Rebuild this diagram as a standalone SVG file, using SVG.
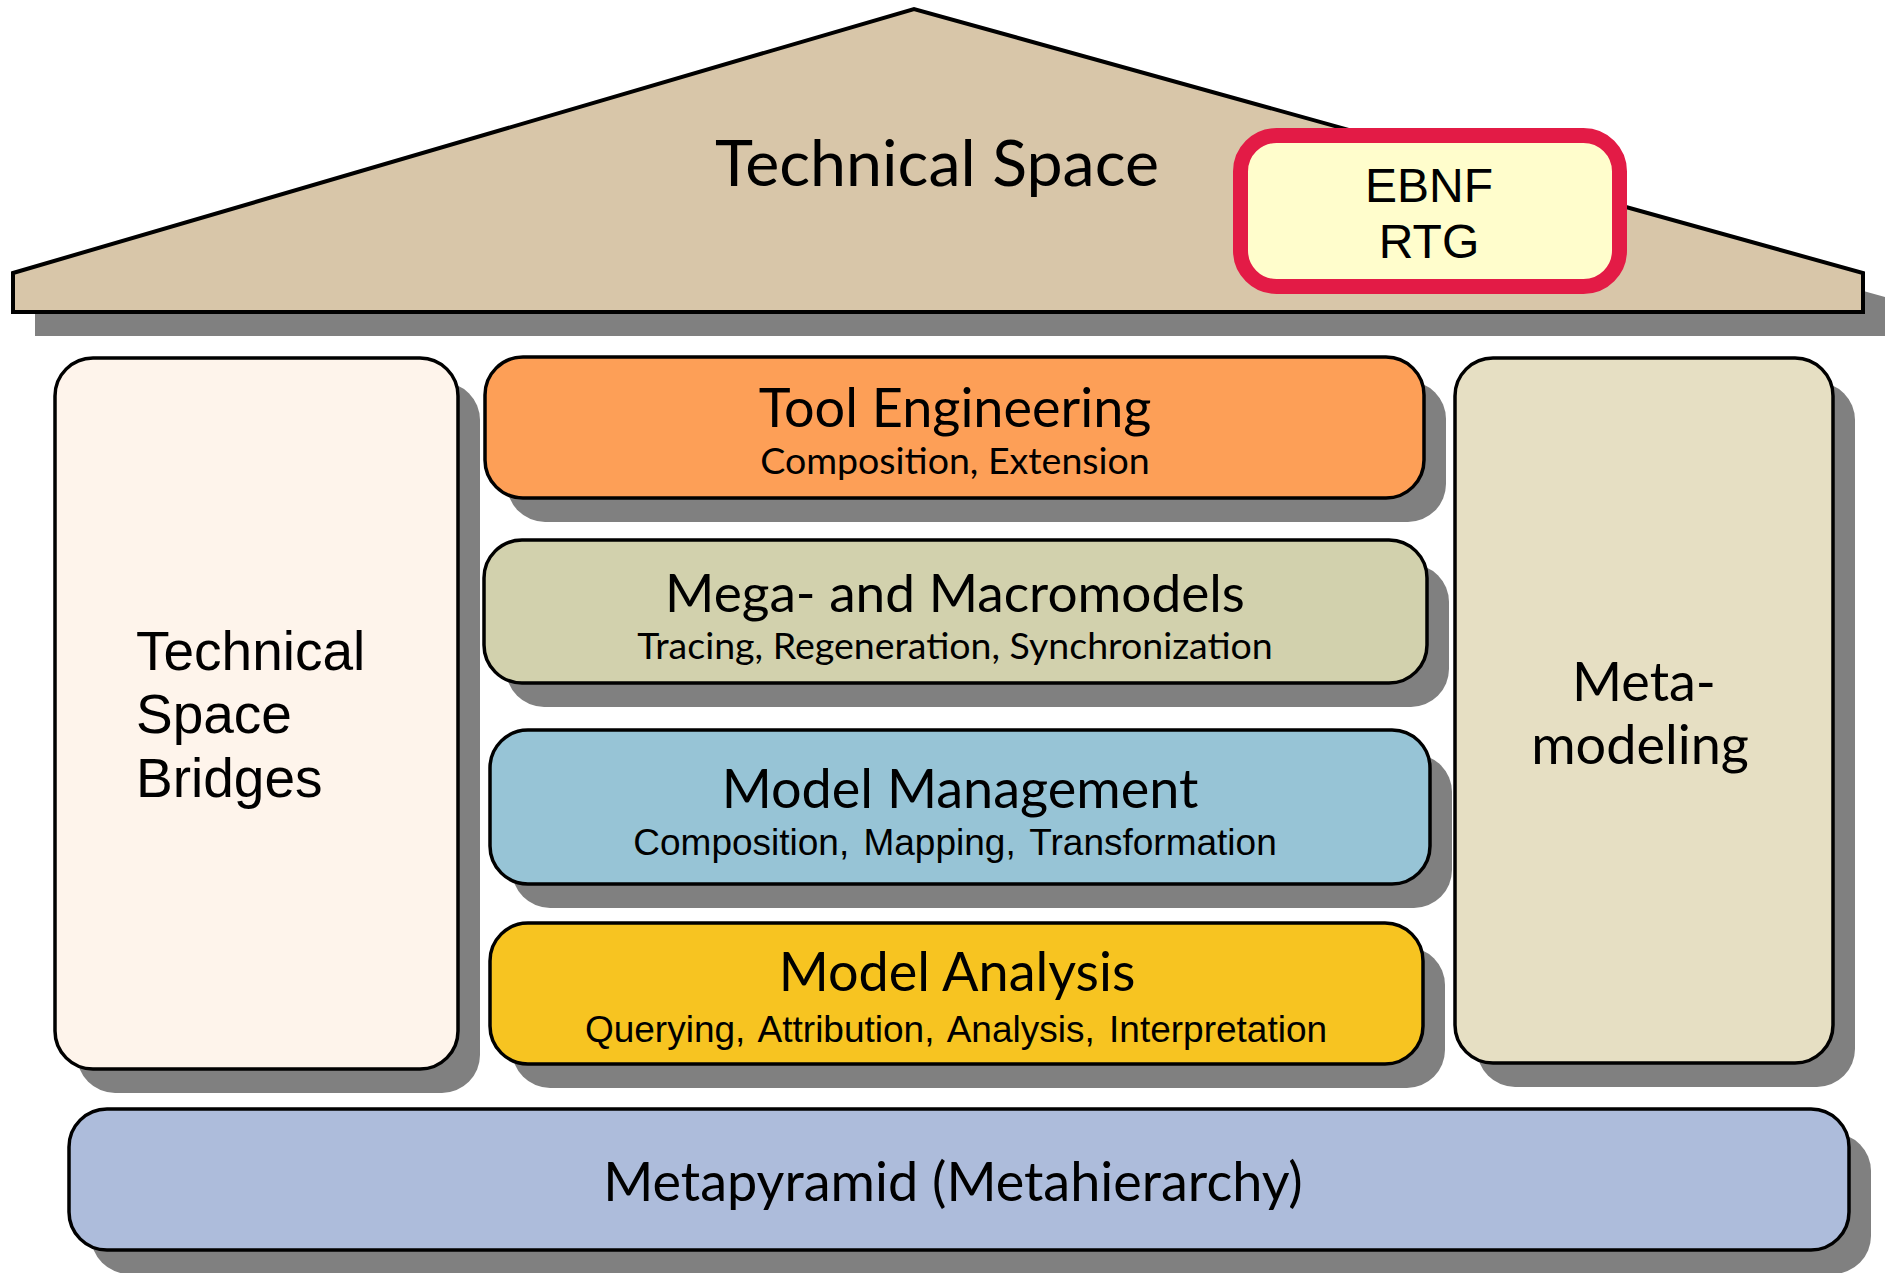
<svg xmlns="http://www.w3.org/2000/svg" width="1896" height="1273" viewBox="0 0 1896 1273">
<style>
.sh{fill:#808080}
.bx{stroke:#000;stroke-width:3.5}
.lato{font-family:Lato,"Noto Sans",sans-serif;fill:#000}
.lib{font-family:"Liberation Sans",Arial,sans-serif;fill:#000}
.t{font-size:54px;text-anchor:middle}
.s{font-size:37.5px;text-anchor:middle}
.s2{font-size:37px;text-anchor:middle;word-spacing:4px}
</style>
<rect width="1896" height="1273" fill="#fff"/>
<g id="roof">
<polygon class="sh" points="35,297 936,33 1885,297 1885,336 35,336"/>
<polygon points="13,273 914,9 1863,273 1863,312 13,312" fill="#D8C6A9" stroke="#000" stroke-width="4" stroke-linejoin="miter"/>
<text class="lato" x="937" y="186" font-size="64.5" text-anchor="middle">Technical Space</text>
</g>
<g id="ebnf">
<rect x="1240.5" y="135.5" width="379" height="151" rx="36" fill="#FFFDCC" stroke="#E31B46" stroke-width="15"/>
<text class="lib" x="1429" y="202" font-size="48" text-anchor="middle">EBNF</text>
<text class="lib" x="1429" y="258" font-size="48" text-anchor="middle">RTG</text>
</g>
<g id="bridges">
<rect class="sh" x="77" y="382" width="403" height="711" rx="38"/>
<rect class="bx" x="55" y="358" width="403" height="711" rx="38" fill="#FEF4EB"/>
<text class="lib" font-size="55"><tspan x="136" y="670">Technical</tspan><tspan x="136" y="733">Space</tspan><tspan x="136" y="797">Bridges</tspan></text>
</g>
<g id="tool">
<rect class="sh" x="507" y="381" width="939" height="141" rx="38"/>
<rect class="bx" x="485" y="357" width="939" height="141" rx="38" fill="#FD9F57"/>
<text class="lato t" x="955" y="427">Tool Engineering</text>
<text class="lato s" x="955" y="474">Composition, Extension</text>
</g>
<g id="mega">
<rect class="sh" x="506" y="564" width="943" height="143" rx="38"/>
<rect class="bx" x="484" y="540" width="943" height="143" rx="38" fill="#D2D1AD"/>
<text class="lato" x="955" y="612" font-size="53.2" text-anchor="middle">Mega- and Macromodels</text>
<text class="lato s" x="955" y="659">Tracing, Regeneration, Synchronization</text>
</g>
<g id="mgmt">
<rect class="sh" x="512" y="754" width="940" height="154" rx="38"/>
<rect class="bx" x="490" y="730" width="940" height="154" rx="38" fill="#97C4D6"/>
<text class="lato t" x="960" y="808">Model Management</text>
<text class="lib s2" x="955" y="855">Composition, Mapping, Transformation</text>
</g>
<g id="analysis">
<rect class="sh" x="512" y="947" width="933" height="141" rx="38"/>
<rect class="bx" x="490" y="923" width="933" height="141" rx="38" fill="#F7C421"/>
<text class="lato t" x="957" y="991">Model Analysis</text>
<text class="lib s2" x="956" y="1042">Querying, Attribution, Analysis, Interpretation</text>
</g>
<g id="metamodeling">
<rect class="sh" x="1477" y="382" width="378" height="705" rx="38"/>
<rect class="bx" x="1455" y="358" width="378" height="705" rx="38" fill="#E6DFC3"/>
<text class="lato t" x="1644" y="701">Meta-</text>
<text class="lato t" x="1640" y="764">modeling</text>
</g>
<g id="metapyramid">
<rect class="sh" x="91" y="1133" width="1780" height="141" rx="38"/>
<rect class="bx" x="69" y="1109" width="1780" height="141" rx="38" fill="#ADBCDB"/>
<text class="lato t" x="953" y="1201">Metapyramid (Metahierarchy)</text>
</g>
<g id="connectors"/>
</svg>
